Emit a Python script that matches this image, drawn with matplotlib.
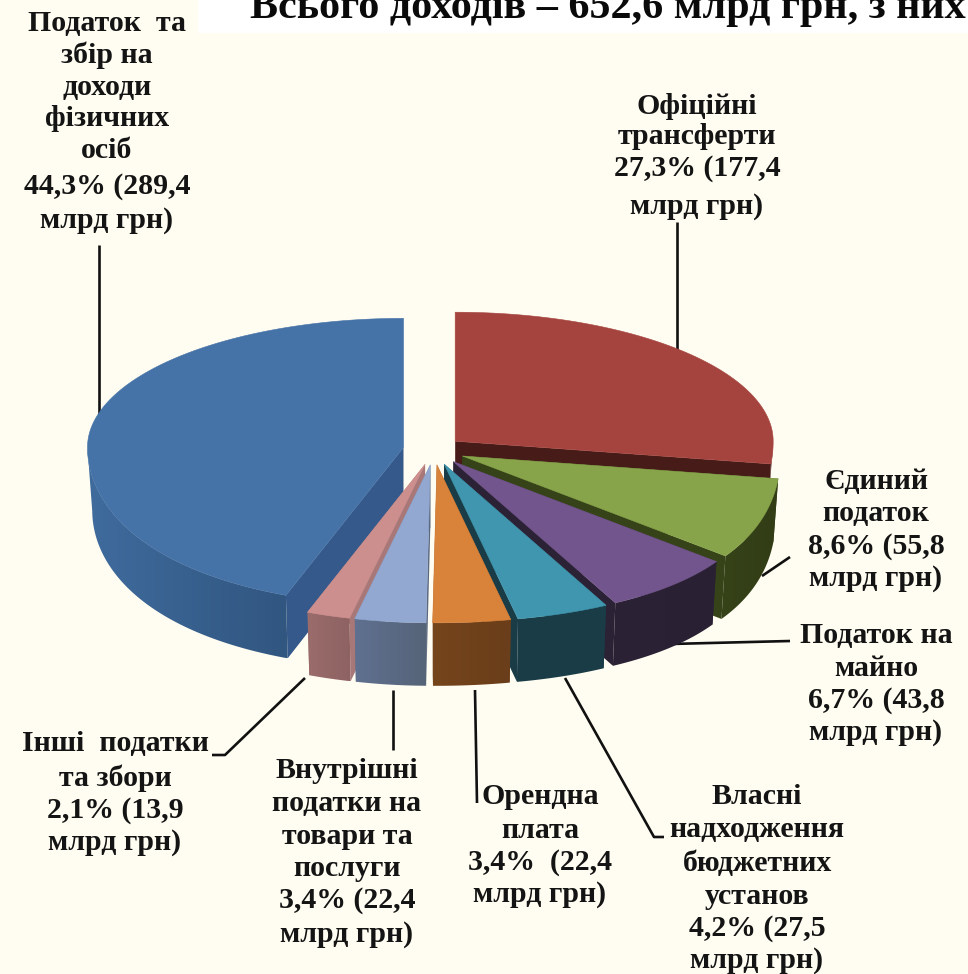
import numpy as np
import matplotlib
matplotlib.use("Agg")
import matplotlib.pyplot as plt
from matplotlib.colors import LinearSegmentedColormap
from matplotlib.patches import Polygon, Rectangle

# ---------- data ----------
shares = [27.3, 8.6, 6.7, 4.2, 3.4, 3.4, 2.1, 44.3]
amounts = ["177,4", "55,8", "43,8", "27,5", "22,4", "22,4", "13,9", "289,4"]
names = [
    ["Офіційні", "трансферти"],
    ["Єдиний", "податок"],
    ["Податок на", "майно"],
    ["Власні", "надходження", "бюджетних", "установ"],
    ["Орендна", "плата"],
    ["Внутрішні", "податки на", "товари та", "послуги"],
    ["Інші  податки", "та збори"],
    ["Податок  та", "збір на", "доходи", "фізичних", "осіб"],
]
title = "Всього доходів – 652,6 млрд грн, з них"

# ---------- style ----------
BG = "#FFFDF1"
top_colors = ["#A5443F", "#87A44A", "#72558C", "#3F96AE", "#D8823A", "#92A8D0", "#CC8F8E", "#4572A7"]
# rim wall gradient, left end -> right end
rim_left = ["#5A2522", "#364218", "#2C2235", "#1A3C47", "#75451C", "#5F7090", "#9A6C6C", "#3F6B9D"]
rim_right = ["#461B18", "#323D16", "#2A2033", "#1B3D48", "#6A3E1A", "#566478", "#8E6262", "#315680"]
side_colors = ["#461B18", "#364218", "#2C2235", "#1A3C47", "#6E401A", "#5A6880", "#A87878", "#35598A"]

CX, CY = 434, 450
explode = [28, 31, 31, 31, 31, 31, 31, 31]
EY_RATIO = 0.48
RX, RY_UP, RY_DOWN = 318, 129, 158
DEPTH = 63
TAPER = 0.985
FS = 21.5

label_cx = [697, 876, 876, 757, 540, 347, 115, 107]
label_y = [
    [106, 137, 169, 206],
    [482, 514, 547, 579],
    [636, 668, 700, 733],
    [796, 830, 863, 896, 928, 961],
    [796, 830, 862, 895],
    [770, 803, 836, 869, 901, 934],
    [744, 778, 810, 843],
    [23, 55, 87, 119, 151, 186, 220],
]
leaders = [
    [(677, 222), (677, 352)],
    [(762, 576), (790, 557)],
    [(670, 644), (790, 641)],
    [(565, 678), (654, 837), (664, 837)],
    [(475, 690), (477, 803)],
    [(393, 690), (393, 750)],
    [(305, 678), (225, 755), (212, 755)],
    [(99, 245), (99, 425)],
]


def project(theta):
    """Clockwise angle from 12 o'clock (radians) -> screen offset from apex."""
    u, v = np.sin(theta), np.cos(theta)
    k = np.where(u >= 0, 0.17, 0.07)
    s = np.where(v < 0, 1 + k * v ** 2, 1.0)
    s = s * np.where(u >= 0, 1.0, 316 / RX)
    y = np.where(v > 0, -RY_UP * v, -RY_DOWN * v)
    return RX * u * s, y


fig = plt.figure(figsize=(9.68, 9.74), dpi=100, facecolor=BG)
ax = fig.add_axes([0, 0, 1, 1])
ax.axis("off")

fractions = np.array(shares) / np.sum(shares)
edges = np.concatenate([[0], np.cumsum(fractions)]) * 2 * np.pi
mids = (edges[:-1] + edges[1:]) / 2
order = np.argsort(-np.abs(mids - np.pi))

for pts in leaders:
    xs, ys = zip(*pts)
    ax.plot(xs, ys, color="#111111", lw=1.9, solid_capstyle="butt", zorder=1)

z = 2
for i in order:
    ax_x = CX + explode[i] * np.sin(mids[i])
    ax_y = CY - explode[i] * EY_RATIO * np.cos(mids[i])
    th = np.linspace(edges[i], edges[i + 1], 160)
    dx, dy = project(th)
    x, y = ax_x + dx, ax_y + dy
    xb = ax_x + dx * TAPER
    yb = y + DEPTH
    # radial walls
    for k in (0, -1):
        ax.add_patch(Polygon([(ax_x, ax_y), (x[k], y[k]), (xb[k], yb[k]), (ax_x, ax_y + DEPTH)],
                             closed=True, fc=side_colors[i], ec="none", zorder=z))
    # rim wall: only the front half of the circle shows, with a soft gradient
    front = np.cos(th) <= 0
    xf, yf, xbf, ybf = x[front], y[front], xb[front], yb[front]
    rim = Polygon(np.column_stack([np.r_[xf, xbf[::-1]], np.r_[yf, ybf[::-1]]]),
                  closed=True, fc="none", ec="none", zorder=z)
    ax.add_patch(rim)
    cmap = LinearSegmentedColormap.from_list("w", [rim_left[i], rim_right[i]])
    im = ax.imshow(np.linspace(0, 1, 64)[None, :], cmap=cmap, aspect="auto", interpolation="bilinear",
                   extent=(min(xf.min(), xbf.min()), max(xf.max(), xbf.max()), ybf.max(), yf.min()), zorder=z)
    im.set_clip_path(rim)
    # top face
    ax.add_patch(Polygon(np.column_stack([np.r_[ax_x, x], np.r_[ax_y, y]]),
                         closed=True, fc=top_colors[i], ec=top_colors[i], lw=0.4, zorder=z))
    z += 1

ax.set_xlim(0, 968)
ax.set_ylim(974, 0)

# title on a white strip; the source image crops it at the top and right edges
ax.add_patch(Rectangle((198, 0), 770, 33, fc="white", ec="none", zorder=20))
ax.text(250, 18, title, family="Liberation Serif", fontweight="bold", fontsize=30.3,
        color="#0A0A0A", ha="left", va="baseline", zorder=21)

for i, cx in enumerate(label_cx):
    gap = "  " if i == 4 else " "
    lines = names[i] + [f"{shares[i]:.1f}%{gap}({amounts[i]}".replace(".", ","), "млрд грн)"]
    for line, yy in zip(lines, label_y[i]):
        ax.text(cx, yy, line, family="Liberation Serif", fontweight="bold", fontsize=FS,
                color="#141414", ha="center", va="center", zorder=22)

fig.savefig("out.png", dpi=100, facecolor=BG)
